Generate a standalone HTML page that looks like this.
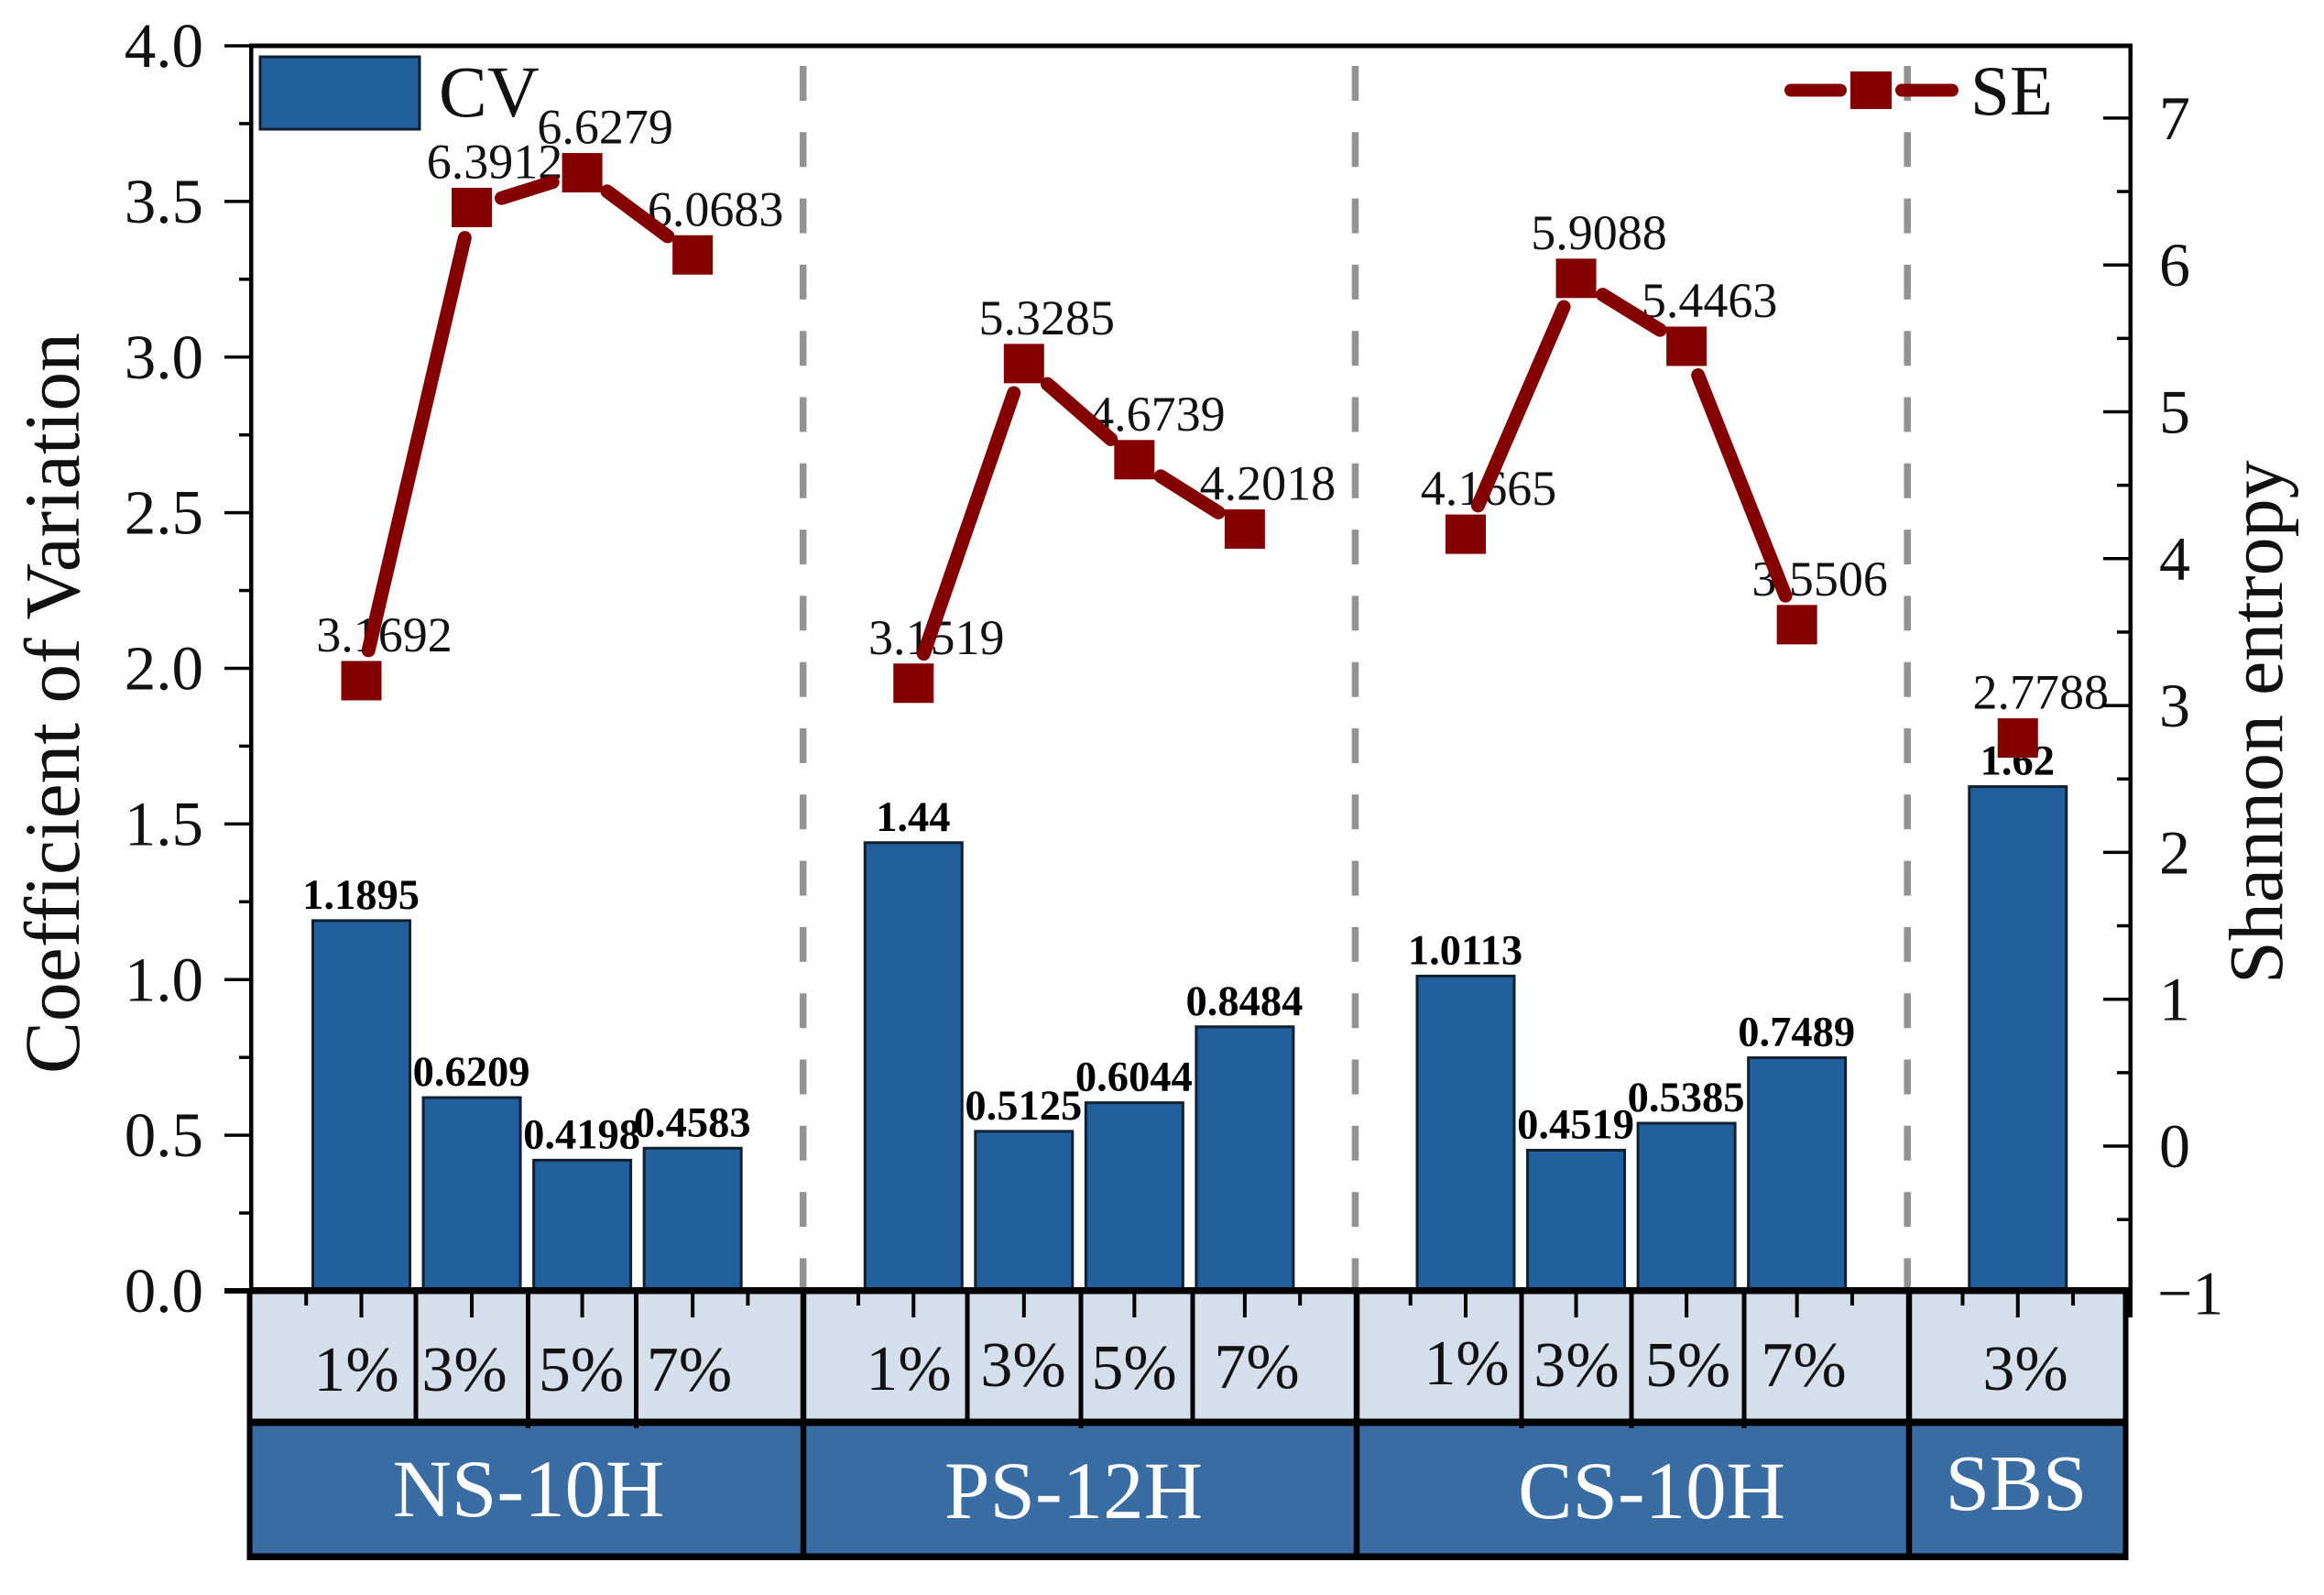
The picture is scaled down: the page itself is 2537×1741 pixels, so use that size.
<!DOCTYPE html>
<html lang="en">
<head>
<meta charset="utf-8">
<title>Coefficient of Variation and Shannon entropy</title>
<style>
html,body{margin:0;padding:0;background:#fff;}
svg{display:block;font-family:"Liberation Serif",serif;}
</style>
</head>
<body>
<svg id="chart" xmlns="http://www.w3.org/2000/svg" width="2537" height="1741" viewBox="0 0 2537 1741">
  <rect x="0" y="0" width="2537" height="1741" fill="#fff"/>

  <g>
    <rect x="273" y="1410" width="2048" height="140" fill="#d4dfeb"/>
    <rect x="273" y="1554" width="2048" height="144" fill="#3a6ca4"/>
    <g stroke="#000" stroke-width="5">
      <line x1="454" y1="1410" x2="454" y2="1553"/>
      <line x1="576.5" y1="1410" x2="576.5" y2="1559"/>
      <line x1="694.5" y1="1410" x2="694.5" y2="1559"/>
      <line x1="1056" y1="1410" x2="1056" y2="1553"/>
      <line x1="1180" y1="1410" x2="1180" y2="1559"/>
      <line x1="1302" y1="1410" x2="1302" y2="1553"/>
      <line x1="1661" y1="1410" x2="1661" y2="1559"/>
      <line x1="1781" y1="1410" x2="1781" y2="1559"/>
      <line x1="1904" y1="1410" x2="1904" y2="1559"/>
    </g>
    <g stroke="#000" stroke-width="6.5">
      <line x1="877" y1="1410" x2="877" y2="1698"/>
      <line x1="1481" y1="1410" x2="1481" y2="1698"/>
      <line x1="2084" y1="1410" x2="2084" y2="1698"/>
    </g>
    <rect x="270" y="1548.5" width="2053" height="8" fill="#000"/>
    <rect x="270" y="1695.5" width="2053" height="7.5" fill="#000"/>
    <rect x="269.5" y="1409" width="6" height="294" fill="#000"/>
    <rect x="2317.5" y="1409" width="6" height="294" fill="#000"/>
    <g font-size="70" fill="#111" text-anchor="middle">
      <text x="389" y="1518">1%</text>
      <text x="507" y="1518">3%</text>
      <text x="634.5" y="1518">5%</text>
      <text x="752.5" y="1518">7%</text>
      <text x="992" y="1517">1%</text>
      <text x="1117" y="1513">3%</text>
      <text x="1238" y="1516">5%</text>
      <text x="1372" y="1515">7%</text>
      <text x="1601" y="1511">1%</text>
      <text x="1721" y="1513">3%</text>
      <text x="1842.5" y="1513">5%</text>
      <text x="1969" y="1513">7%</text>
      <text x="2211" y="1517">3%</text>
    </g>
    <g font-size="89" fill="#fff" text-anchor="middle">
      <text x="577" y="1655">NS-10H</text>
      <text x="1172" y="1657">PS-12H</text>
      <text x="1803" y="1657">CS-10H</text>
      <text x="2201" y="1648" font-size="87">SBS</text>
    </g>
  </g>

  <g id="dividers"></g>
  <g id="bars"></g>
  <g id="barLabels"></g>
  <g id="seLabels"></g>

  <g>
    <rect x="272" y="47.5" width="2056" height="5" fill="#000"/>
    <rect x="272" y="47.5" width="4.5" height="1362" fill="#000"/>
    <rect x="2323.5" y="47.5" width="4.5" height="1362" fill="#000"/>
    <rect x="2322" y="1409" width="6" height="29" fill="#000"/>
    <rect x="272" y="1405" width="2056" height="7.5" fill="#000"/>
  </g>
  <g id="ticksLeft"></g>
  <g id="ticksRight"></g>
  <g id="ticksX"></g>

  <g id="seLines"></g>
  <g id="seMarkers"></g>

  <text transform="translate(86 1172) rotate(-90)" font-size="85.5" fill="#111">Coefficient of Variation</text>
  <text transform="translate(2491 1074) rotate(-90)" font-size="84" fill="#111">Shannon entropy</text>

  <g>
    <rect x="284" y="62" width="174" height="79" fill="#22609d" stroke="#10202f" stroke-width="3"/>
    <text x="479" y="127" font-size="79" fill="#111">CV</text>
  </g>
  <g>
    <line x1="1955" y1="98.5" x2="2009" y2="98.5" stroke="#840000" stroke-width="14" stroke-linecap="round"/>
    <line x1="2076" y1="98.5" x2="2131" y2="98.5" stroke="#840000" stroke-width="14" stroke-linecap="round"/>
    <rect x="2020" y="78" width="45" height="41" fill="#840000"/>
    <text x="2151" y="125" font-size="77" fill="#111">SE</text>
  </g>
</svg>
<script>
const groupNames = ['NS-10H', 'PS-12H', 'CS-10H', 'SBS'];
const groupDosages = [['1%', '3%', '5%', '7%'], ['1%', '3%', '5%', '7%'], ['1%', '3%', '5%', '7%'], ['3%']];
const cvValues = [1.1895, 0.6209, 0.4198, 0.4583, 1.44, 0.5125, 0.6044, 0.8484, 1.0113, 0.4519, 0.5385, 0.7489, 1.62];
const seValues = [3.1692, 6.3912, 6.6279, 6.0683, 3.1519, 5.3285, 4.6739, 4.2018, 4.1665, 5.9088, 5.4463, 3.5506, 2.7788];
const leftTickValues = [0, 0.5, 1, 1.5, 2, 2.5, 3, 3.5, 4];
const leftTickLabels = ['0.0', '0.5', '1.0', '1.5', '2.0', '2.5', '3.0', '3.5', '4.0'];
const rightTickValues = [-1, 0, 1, 2, 3, 4, 5, 6, 7];
const rightTickLabels = ['\u22121', '0', '1', '2', '3', '4', '5', '6', '7'];

const NS = 'http://www.w3.org/2000/svg';
const SERIES_RED = '#840000';
function xScale(slot) { return 394.5 + slot * 120.55; }
function yLeft(v) { return 1409 - v * 339.75; }
function yRight(v) { return 1251 - v * 160.3; }
function mk(parentId, tag, attrs, text) {
  const el = document.createElementNS(NS, tag);
  for (const k in attrs) el.setAttribute(k, attrs[k]);
  if (text !== undefined) el.textContent = text;
  document.getElementById(parentId).appendChild(el);
  return el;
}

let slot = 0;
let idx = 0;
const plotted = [];
groupNames.forEach(function (g, gi) {
  const first = slot;
  groupDosages[gi].forEach(function (d) {
    plotted.push({ slot: slot, group: gi, index: idx, name: g + ' ' + d });
    slot += 1;
    idx += 1;
  });
  const edgeA = mk('ticksX', 'line', { x1: xScale(first - 0.5), x2: xScale(first - 0.5), y1: 1409, y2: 1425, stroke: '#000', 'stroke-width': 4 });
  
  
  const edgeB = mk('ticksX', 'line', { x1: xScale(slot - 0.5), x2: xScale(slot - 0.5), y1: 1409, y2: 1425, stroke: '#000', 'stroke-width': 4 });
  
  
  if (gi < groupNames.length - 1) {
    const div = mk('dividers', 'line', { x1: xScale(slot), x2: xScale(slot), y1: 72, y2: 1409, stroke: '#929292', 'stroke-width': 7.5, 'stroke-dasharray': '38 34.3' });
    
    
    slot += 1;
  }
});

plotted.forEach(function (p) {
  const cv = cvValues[p.index];
  const se = seValues[p.index];
  const cx = xScale(p.slot);

  const bar = mk('bars', 'rect', { x: cx - 53, y: yLeft(cv), width: 106, height: yLeft(0) - yLeft(cv), fill: '#22609d', stroke: '#10202f', 'stroke-width': 3 });
  
  

  const barLabel = mk('barLabels', 'text', { x: cx - 0.5, y: yLeft(cv) - 13, 'font-size': 46.5, 'font-weight': 'bold', 'text-anchor': 'middle', fill: '#000' }, String(cv));
  
  

  const seLabel = mk('seLabels', 'text', { x: cx + 25, y: yRight(se) - 32, 'font-size': 54, 'text-anchor': 'middle', fill: '#111' }, String(se));
  
  

  const tick = mk('ticksX', 'line', { x1: cx, x2: cx, y1: 1409, y2: 1438, stroke: '#000', 'stroke-width': 4 });
  
  

  const marker = mk('seMarkers', 'rect', { x: cx - 22, y: yRight(se) - 21.5, width: 44, height: 43, fill: SERIES_RED });
  
  
});

plotted.forEach(function (p, i) {
  const q = plotted[i + 1];
  if (!q || q.group !== p.group) return;
  const x1 = xScale(p.slot);
  const y1 = yRight(seValues[p.index]);
  const x2 = xScale(q.slot);
  const y2 = yRight(seValues[q.index]);
  const len = Math.hypot(x2 - x1, y2 - y1);
  const gap = 34;
  const ux = (x2 - x1) / len;
  const uy = (y2 - y1) / len;
  const seg = mk('seLines', 'line', { x1: x1 + ux * gap, y1: y1 + uy * gap, x2: x2 - ux * gap, y2: y2 - uy * gap, stroke: SERIES_RED, 'stroke-width': 15, 'stroke-linecap': 'round' });
  
  
});

leftTickValues.forEach(function (v, i) {
  const y = yLeft(v);
  const major = mk('ticksLeft', 'line', { x1: 245, x2: 274, y1: y, y2: y, stroke: '#000', 'stroke-width': i === 0 ? 6 : 3.5 });
  
  
  const label = mk('ticksLeft', 'text', { x: 222, y: y + 23, 'font-size': 69, 'text-anchor': 'end', fill: '#111' }, leftTickLabels[i]);
  
  
  if (i < leftTickValues.length - 1) {
    const my = yLeft((v + leftTickValues[i + 1]) / 2);
    const minor = mk('ticksLeft', 'line', { x1: 261, x2: 274, y1: my, y2: my, stroke: '#000', 'stroke-width': 3.5 });
    
    
  }
});

rightTickValues.forEach(function (v, i) {
  const y = yRight(v);
  if (i > 0) {
    const major = mk('ticksRight', 'line', { x1: 2296, x2: 2326, y1: y, y2: y, stroke: '#000', 'stroke-width': 3.5 });
    
    
  }
  const label = mk('ticksRight', 'text', { x: i === 0 ? 2355 : 2357, y: y + 23, 'font-size': 68, fill: '#111' }, rightTickLabels[i]);
  
  
  if (i < rightTickValues.length - 1) {
    const my = yRight((v + rightTickValues[i + 1]) / 2);
    const minor = mk('ticksRight', 'line', { x1: 2311, x2: 2326, y1: my, y2: my, stroke: '#000', 'stroke-width': 3.5 });
    
    
  }
});
</script>
</body>
</html>
